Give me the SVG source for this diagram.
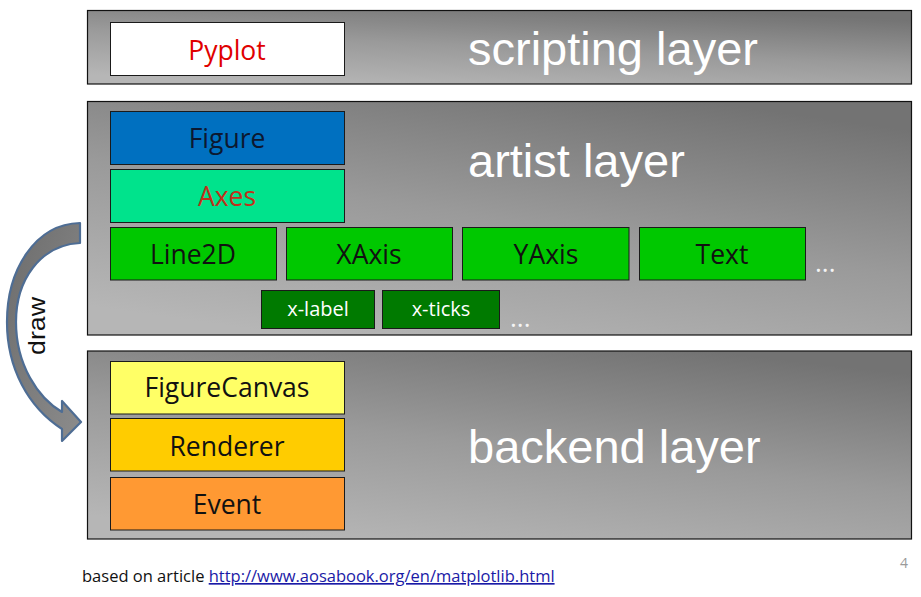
<svg xmlns="http://www.w3.org/2000/svg" width="921" height="597" viewBox="0 0 921 597">
<defs>
<linearGradient id="panel" x1="0.25" y1="1" x2="0.75" y2="0">
<stop offset="0" stop-color="#b6b6b6"/>
<stop offset="0.5" stop-color="#9a9a9a"/>
<stop offset="1" stop-color="#737373"/>
</linearGradient>
<linearGradient id="arrowfill" x1="0" y1="0" x2="1" y2="1">
<stop offset="0" stop-color="#6c6c6c"/>
<stop offset="1" stop-color="#8c8c8c"/>
</linearGradient>
<style>
.panel{fill:url(#panel);stroke:#111;stroke-width:1.2}
.box{stroke:#1a1a1a;stroke-width:1}
.lbl{font-family:"Open Sans","Noto Sans",sans-serif;font-size:26.5px;font-weight:500;text-anchor:middle;fill:#111}
.small{font-family:"Open Sans","Noto Sans",sans-serif;font-size:20px;font-weight:500;text-anchor:middle;fill:#fff}
.layer{font-family:"Liberation Sans",Arial,sans-serif;font-size:47px;fill:#fff}
.dots{font-family:"Open Sans",sans-serif;font-size:26px;font-weight:500;fill:#f4f4f4}
.foot{font-family:"Open Sans","Noto Sans",sans-serif;font-size:16.5px}
</style>
</defs>
<rect width="921" height="597" fill="#fff"/>

<g id="scripting-layer">
<rect class="panel" x="87.5" y="10.5" width="824" height="73.5"/>
<text class="layer" x="468" y="65">scripting layer</text>
</g>
<g id="artist-layer">
<rect class="panel" x="87.5" y="101.5" width="824" height="233.5"/>
<text class="layer" x="468" y="177">artist layer</text>
</g>
<g id="backend-layer">
<rect class="panel" x="87.5" y="351" width="824" height="188"/>
<text class="layer" x="468" y="463">backend layer</text>
</g>

<g id="pyplot">
<rect class="box" x="110.5" y="22.5" width="234" height="53" fill="#fff"/>
<text class="lbl" x="227" y="60" style="fill:#e00000">Pyplot</text>
</g>
<g id="figure">
<rect class="box" x="110.5" y="111.5" width="234" height="53" fill="#0070c0"/>
<text class="lbl" x="227" y="148" style="fill:#0c1830">Figure</text>
</g>
<g id="axes">
<rect class="box" x="110.5" y="169.5" width="234" height="53" fill="#00e38c"/>
<text class="lbl" x="227" y="206" style="fill:#c0301a">Axes</text>
</g>
<g id="line2d">
<rect class="box" x="110.5" y="227.5" width="166" height="52.5" fill="#00c800"/>
<text class="lbl" x="193" y="264">Line2D</text>
</g>
<g id="xaxis">
<rect class="box" x="286.5" y="227.5" width="166" height="52.5" fill="#00c800"/>
<text class="lbl" x="369" y="264">XAxis</text>
</g>
<g id="yaxis">
<rect class="box" x="462.5" y="227.5" width="166.5" height="52.5" fill="#00c800"/>
<text class="lbl" x="546" y="264">YAxis</text>
</g>
<g id="text">
<rect class="box" x="639.5" y="227.5" width="166" height="52.5" fill="#00c800"/>
<text class="lbl" x="722" y="264">Text</text>
</g>
<text class="dots" x="815" y="272">...</text>
<g id="xlabel">
<rect class="box" x="261.5" y="290.5" width="113" height="38" fill="#007a00"/>
<text class="small" x="318" y="316">x-label</text>
</g>
<g id="xticks">
<rect class="box" x="382.5" y="290.5" width="117" height="38" fill="#007a00"/>
<text class="small" x="441" y="316">x-ticks</text>
</g>
<text class="dots" x="510" y="327">...</text>

<g id="figurecanvas">
<rect class="box" x="110.5" y="361.5" width="234" height="52.5" fill="#ffff66"/>
<text class="lbl" x="227" y="397">FigureCanvas</text>
</g>
<g id="renderer">
<rect class="box" x="110.5" y="418.5" width="234" height="52.5" fill="#ffcc00"/>
<text class="lbl" x="227" y="455.5">Renderer</text>
</g>
<g id="event">
<rect class="box" x="110.5" y="477.5" width="234" height="52.5" fill="#ff9933"/>
<text class="lbl" x="227" y="514">Event</text>
</g>

<g id="connectors">
<path d="M 80,223 C 35,224 7,270 7,322 C 7,368 28,407 62,429 L 62,441 L 81,422 L 62,401 L 62,412 C 38,398 16,365 16,322 C 16,280 40,245 80,243 Z" fill="url(#arrowfill)" stroke="#4e6d94" stroke-width="2.2" stroke-linejoin="round"/>
<text x="45" y="355" transform="rotate(-90 45 355)" textLength="58" lengthAdjust="spacingAndGlyphs" font-family="'Liberation Sans',Arial,sans-serif" font-size="24" fill="#111">draw</text>
</g>

<text class="foot" x="82" y="582" fill="#111">based on article <tspan fill="#1a1aa6" text-decoration="underline">http://www.aosabook.org/en/matplotlib.html</tspan></text>
<text x="900" y="568" font-family="'Open Sans',sans-serif" font-size="14" fill="#9a9a9a">4</text>
</svg>
